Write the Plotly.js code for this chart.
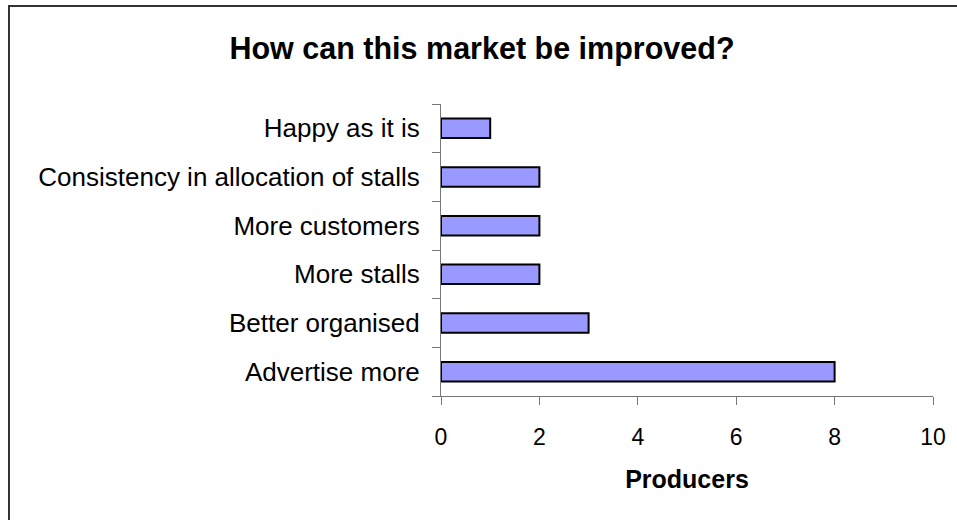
<!DOCTYPE html>
<html>
<head>
<meta charset="utf-8">
<script src="https://cdn.plot.ly/plotly-3.0.1.min.js"></script>
<style>
html, body { margin: 0; padding: 0; overflow: hidden; background: #fff; }
#wrap { position: relative; width: 957px; height: 520px; }
#chart { width: 957px; height: 520px; }
#frame { position: absolute; left: 8px; top: 5px; width: 2000px; height: 2000px;
  border-top: 2px solid #333; border-left: 2px solid #333; pointer-events: none; }
</style>
</head>
<body>
<div id="wrap">
<div id="chart"></div>
<div id="frame"></div>
</div>
<script>
// Data (bottom to top)
const categories = [
  "Advertise more",
  "Better organised",
  "More stalls",
  "More customers",
  "Consistency in allocation of stalls",
  "Happy as it is"
];
const producers = [8, 3, 2, 2, 2, 1];
const xTickValues = [0, 2, 4, 6, 8, 10];

const font = "Arial, 'Liberation Sans', sans-serif";

const trace = {
  type: "bar",
  orientation: "h",
  y: categories,
  x: producers,
  width: 0.4,
  marker: { color: "#9999FF", line: { color: "#000000", width: 2 } },
  hoverinfo: "none"
};

const layout = {
  width: 957,
  height: 520,
  margin: { l: 441, r: 24, t: 104, b: 124, pad: 0 },
  paper_bgcolor: "#ffffff",
  plot_bgcolor: "#ffffff",
  showlegend: false,
  title: {
    text: "<b>How can this market be improved?</b>",
    font: { family: font, size: 30.5, color: "#000" },
    x: 482 / 957, xref: "container", xanchor: "center",
    y: 1 - 48 / 520, yref: "container", yanchor: "middle"
  },
  xaxis: {
    range: [0, 10],
    tickvals: xTickValues,
    ticktext: xTickValues.map(String),
    showgrid: false,
    zeroline: false,
    showline: true,
    linecolor: "#777",
    linewidth: 1,
    ticks: "outside",
    ticklen: 8,
    tickcolor: "#777",
    tickfont: { family: font, size: 23, color: "#000" },
    ticklabelstandoff: 12,
    title: {
      text: "<b>Producers</b>",
      font: { family: font, size: 25, color: "#000" },
      standoff: 21
    }
  },
  yaxis: {
    type: "category",
    categoryorder: "array",
    categoryarray: categories,
    showgrid: false,
    zeroline: false,
    showline: true,
    linecolor: "#777",
    linewidth: 1,
    ticks: "outside",
    tickson: "boundaries",
    ticklen: 8,
    tickcolor: "#777",
    tickfont: { family: font, size: 26, color: "#000" },
    ticklabelstandoff: 15
  },
  bargap: 0.6
};

Plotly.newPlot("chart", [trace], layout, { staticPlot: true, displayModeBar: false });
</script>
</body>
</html>
